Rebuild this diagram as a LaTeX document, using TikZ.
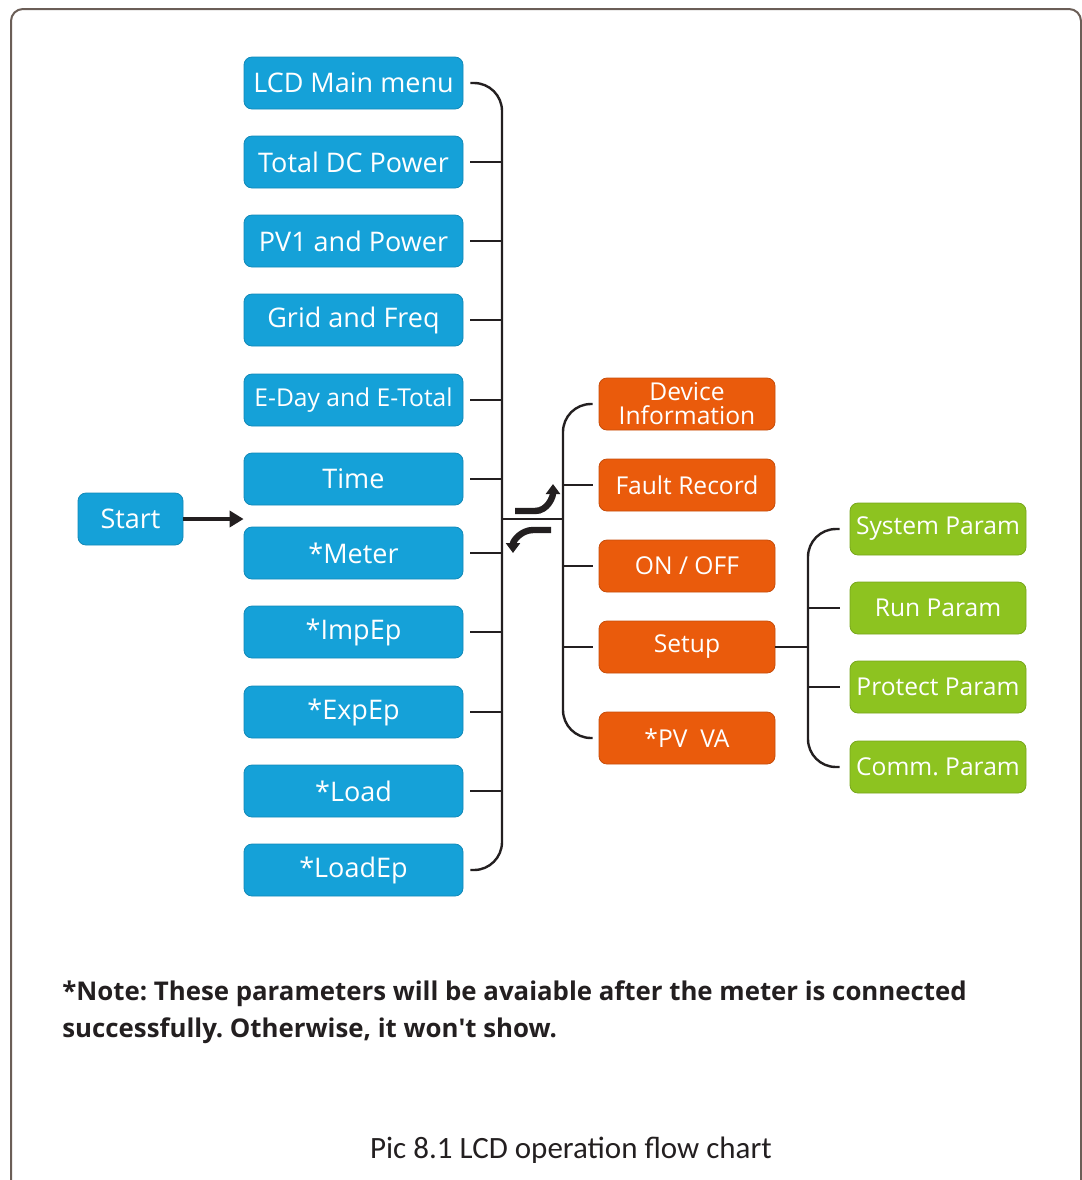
\documentclass[tikz,border=0pt]{standalone}
\usepackage{fontspec}
\setmainfont{Open Sans}
\newfontfamily\capfont{Carlito}
\usetikzlibrary{arrows.meta,positioning}
\definecolor{lcdblue}{HTML}{15A1D8}
\definecolor{lcdorange}{HTML}{EA5B0C}
\definecolor{lcdgreen}{HTML}{8DC320}
\definecolor{framegray}{HTML}{6B5E57}
\definecolor{inkgray}{HTML}{231F20}
\frenchspacing

\begin{document}
\begin{tikzpicture}[x=0.5pt,y=-0.5pt,
  box/.style={draw=#1!85!black,line width=0.4pt,fill=#1,rounded corners=4pt,text=white,minimum height=26pt,inner sep=1pt,align=center,font=\fontsize{13.5}{12}\selectfont},
  menubox/.style={box=lcdblue,minimum width=109.5pt},
  subbox/.style={box=lcdorange,minimum width=88pt,font=\fontsize{12.3}{12}\selectfont},
  parbox/.style={box=lcdgreen,minimum width=88pt,font=\fontsize{12.3}{12}\selectfont},
  link/.style={line width=1.2pt,draw=inkgray},
  arr/.style={-{Triangle[length=7pt,width=8pt]},line width=2pt,draw=inkgray},
  turn/.style={-{Triangle[length=5pt,width=7pt]},line width=3.2pt,draw=inkgray}]
\path[use as bounding box] (0,0) rectangle (1082,1180);
\draw[framegray,line width=1pt,rounded corners=6pt] (11,1182) -- (11,9) -- (1081,9) -- (1081,1182);

% main menu column
\node[box=lcdblue,minimum width=52.5pt] (start) at (130.5,519) {Start};
\node[menubox] (menu) at (353.5,83) {LCD Main menu};
\node[menubox] (dcpower) at (353.5,162) {Total DC Power};
\node[menubox] (pv1) at (353.5,241) {PV1 and Power};
\node[menubox] (grid) at (353.5,320) {Grid and Freq};
\node[menubox,font=\fontsize{12.3}{12}\selectfont] (eday) at (353.5,400) {E-Day and E-Total};
\node[menubox] (time) at (353.5,479) {Time};
\node[menubox] (meter) at (353.5,553) {*Meter};
\node[menubox] (impep) at (353.5,632) {*ImpEp};
\node[menubox] (expep) at (353.5,712) {*ExpEp};
\node[menubox] (load) at (353.5,791) {*Load};
\node[menubox] (loadep) at (353.5,870) {*LoadEp};

% sub menu
\node[subbox] (devinfo) at (687,404) {Device\\Information};
\node[subbox] (fault) at (687,485) {Fault Record};
\node[subbox] (onoff) at (687,566) {ON / OFF};
\node[subbox] (setup) at (687,647) {Setup};
\node[subbox] (pvva) at (687,738) {*PV\ \ VA};

% setup params
\node[parbox] (syspar) at (938,529) {System Param};
\node[parbox] (runpar) at (938,608) {Run Param};
\node[parbox] (protpar) at (938,687) {Protect Param};
\node[parbox] (commpar) at (938,767) {Comm. Param};

\coordinate (bus1) at (502,519);
\coordinate (bus2) at (563,519);
\coordinate (bus3) at (808,647);
\coordinate (upa) at (515,511); \coordinate (upb) at (553,484);
\coordinate (dna) at (551,530); \coordinate (dnb) at (513,553);

\draw[arr] (start) -- (start -| menu.west);
\draw[link,rounded corners=14pt] ([xshift=3.5pt]menu.east) -| (bus1) |- ([xshift=3.5pt]loadep.east);
\foreach \n in {dcpower,pv1,grid,eday,time,meter,impep,expep,load}
  \draw[link] ([xshift=3.5pt]\n.east) -- (\n.east -| bus1);
\draw[link] (bus1) -- (bus2);
\draw[link,rounded corners=14pt] ([xshift=-3pt]devinfo.west) -| (bus2) |- ([xshift=-3pt]pvva.west);
\foreach \n in {fault,onoff,setup}
  \draw[link] ([xshift=-3pt]\n.west) -- (\n.west -| bus2);
\draw[turn] (upa) -- ++(20,0) to[out=0,in=-90] (upb);
\draw[turn] (dna) -- ++(-18,0) to[out=180,in=90] (dnb);
\draw[link] (setup) -- (bus3);
\draw[link,rounded corners=14pt] ([xshift=-5pt]syspar.west) -| (bus3) |- ([xshift=-5pt]commpar.west);
\foreach \n in {runpar,protpar}
  \draw[link] ([xshift=-5pt]\n.west) -- (\n.west -| bus3);

\node[anchor=north west,align=left,text=inkgray,inner sep=0pt,font=\fontsize{12.9}{18.5}\selectfont\bfseries] (note) at (62,980)
  {*Note: These parameters will be avaiable after the meter is connected\\successfully. Otherwise, it won\textquotesingle t show.};
\node[text=inkgray,font=\capfont\fontsize{15.5}{17}\selectfont] (caption) at (571,1150) {Pic 8.1 LCD operation flow chart};
\end{tikzpicture}
\end{document}
